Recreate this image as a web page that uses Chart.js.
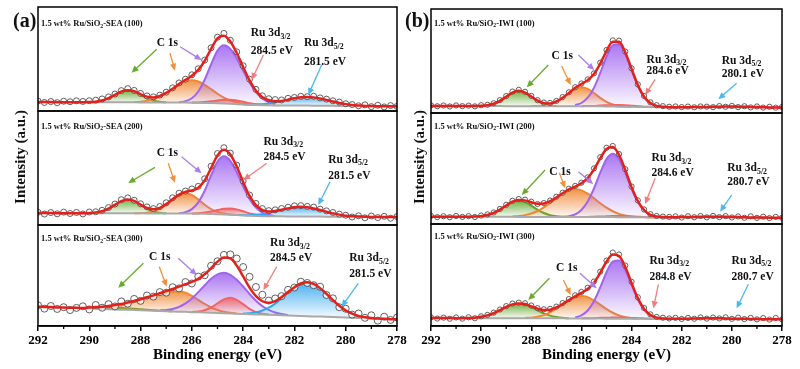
<!DOCTYPE html>
<html>
<head>
<meta charset="utf-8">
<script src="https://cdn.jsdelivr.net/npm/chart.js@4.4.1/dist/chart.umd.min.js"></script>
<style>
html,body{margin:0;padding:0;background:#ffffff;}
#fig{position:relative;width:800px;height:369px;overflow:hidden;background:#fff;font-family:"Liberation Serif","Times New Roman",serif;color:#111;}
#fig canvas{position:absolute;}
.t{position:absolute;white-space:nowrap;font-weight:bold;line-height:1;transform:translateY(-50%);}
.ann{font-size:11.5px;}
.st{font-size:8.5px;}
.pl{font-size:20px;}
.yt{position:absolute;white-space:nowrap;font-weight:bold;font-size:15px;line-height:1;transform:translate(-50%,-50%) rotate(-90deg);}
sub{font-size:0.68em;vertical-align:baseline;position:relative;top:0.3em;}
</style>
</head>
<body>
<div id="fig"></div>
<script>
// ---------- data (binding energy grid, eV) ----------
const ENERGY = [292,291.75,291.5,291.25,291,290.75,290.5,290.25,290,289.75,289.5,289.25,289,288.75,288.5,288.25,288,287.75,287.5,287.25,287,286.75,286.5,286.25,286,285.75,285.5,285.25,285,284.75,284.5,284.25,284,283.75,283.5,283.25,283,282.75,282.5,282.25,282,281.75,281.5,281.25,281,280.75,280.5,280.25,280,279.75,279.5,279.25,279,278.75,278.5,278.25,278];
const TICK_LABELS = [292,290,288,286,284,282,280,278];
const STEP = 0.25; // sampling step of the fitted component arrays
// component order in every *_FROM list: green, orange, purple, red, blue (start energy of each array)

// ---- (a) SEA (100) ----
const BASE_A1 = [8.6,8.6,8.6,8.5,8.5,8.5,8.5,8.5,8.4,8.4,8.4,8.4,8.3,8.3,8.3,8.3,8.2,8.2,8.2,8.2,8.1,8.1,8.1,8.1,8.0,7.9,7.8,7.7,7.5,7.2,6.9,6.5,6.2,5.9,5.7,5.6,5.5,5.4,5.4,5.3,5.3,5.2,5.2,5.1,5.1,5.0,5.0,4.9,4.9,4.8,4.8,4.7,4.7,4.6,4.6,4.5,4.5];
const RAW_A1 = [9.5,8.2,9.1,8.0,9.4,8.9,9.8,9.2,9.9,10.4,11.6,13.5,16.3,19.6,21.5,19.8,16.9,14.5,13.6,15.3,18.1,22.3,27.0,30.6,34.8,40.6,48.9,60.8,71.0,74.6,68.0,56.9,43.5,30.6,20.8,14.6,11.8,11.0,10.6,12.2,13.0,14.1,13.8,14.2,12.6,11.4,9.8,8.6,7.0,6.2,5.0,5.9,4.2,5.5,3.9,5.2,4.4];
const A1_FROM = [290,288.25,286.5,286,284];
const A1_GREEN = [0.2,0.6,1.7,4.0,7.2,10.4,11.7,10.4,7.2,4.0,1.7,0.6,0.2];
const A1_ORANGE = [0.3,0.7,1.6,3.1,5.6,9.1,13.3,17.4,20.4,21.5,20.4,17.4,13.3,9.1,5.6,3.1,1.6,0.7,0.3];
const A1_PURPLE = [0.4,1.4,4.3,10.9,22.2,37.1,50.5,56,52.8,44.1,32.6,21.4,12.5,6.4,3.0,1.2];
const A1_RED = [0.1,0.3,0.8,1.6,2.7,3.6,4.0,3.6,2.7,1.6,0.8,0.3,0.1];
const A1_BLUE = [0.1,0.2,0.5,1.0,1.7,2.8,4.2,5.6,7.0,8.0,8.3,8.0,7.0,5.6,4.2,2.8,1.7,1.0,0.5,0.2,0.1];

// ---- (a) SEA (200) ----
const BASE_A2 = [10.5,10.5,10.5,10.4,10.4,10.4,10.4,10.3,10.3,10.3,10.3,10.3,10.2,10.2,10.2,10.2,10.2,10.1,10.1,10.1,10.1,10.1,10.0,10.0,10.0,9.9,9.8,9.7,9.5,9.3,9.0,8.7,8.4,8.1,7.9,7.7,7.6,7.6,7.6,7.5,7.5,7.5,7.4,7.4,7.4,7.3,7.3,7.3,7.2,7.2,7.2,7.1,7.1,7.1,7.0,7.0,7.0];
const RAW_A2 = [11.2,9.6,10.9,9.8,11.3,10.1,11.0,9.7,11.4,11.6,12.9,15.3,18.4,22.2,23.8,21.7,18.6,15.9,14.4,16.2,19.5,23.9,27.9,29.8,31.6,33.9,40.5,51.6,62.7,67.8,63.1,52.5,38.6,26.3,18.9,14.4,12.6,13.3,14.5,15.6,16.8,17.0,16.3,15.7,13.9,12.4,11.0,9.5,8.6,7.0,8.1,6.3,7.9,6.5,7.6,5.9,7.4];
const A2_FROM = [290,288.25,286.5,286,284.25];
const A2_GREEN = [0.2,0.6,1.8,4.1,7.5,10.8,12.2,10.8,7.5,4.1,1.8,0.6,0.2];
const A2_ORANGE = [0.1,0.2,0.7,2.0,4.3,8.0,12.5,16.3,17.8,16.3,12.5,8.0,4.3,2.0,0.7,0.2,0.1];
const A2_PURPLE = [0.4,1.3,3.9,9.9,20.2,33.8,46.0,51,47.2,37.5,25.5,14.8,7.4,3.2,1.2,0.4];
const A2_RED = [0.1,0.4,1.1,2.1,3.6,5.0,5.5,5.0,3.6,2.1,1.1,0.4,0.1];
const A2_BLUE = [0.1,0.3,0.5,1.0,1.8,2.9,4.3,5.8,7.1,8.1,8.5,8.1,7.1,5.8,4.3,2.9,1.8,1.0,0.5,0.3,0.1];

// ---- (a) SEA (300) ----
const BASE_A3 = [19.1,18.9,18.7,18.4,18.2,18.0,17.8,17.5,17.3,17.1,16.9,16.6,16.4,16.2,16.0,15.8,15.5,15.3,15.1,14.9,14.6,14.4,14.2,14.0,13.7,13.5,13.3,13.1,12.9,12.6,12.4,12.2,12.0,11.7,11.5,11.3,11.1,10.8,10.6,10.4,10.2,10.0,9.7,9.5,9.3,9.1,8.8,8.6,8.4,8.2,7.9,7.7,7.5,7.3,7.1,6.8,6.6];
const RAW_A3 = [20.5,17.2,19.8,16.9,18.6,15.8,17.9,19.5,16.4,20.8,18.1,21.6,19.4,24.3,22.1,26.8,24.9,30.2,29.1,33.6,33.0,38.4,37.2,43.5,42.1,48.9,50.2,59.6,64.1,70.4,70.9,66.8,58.4,48.7,38.6,30.9,25.2,27.3,29.6,35.8,38.1,43.9,42.6,40.4,38.9,30.7,27.4,18.6,17.1,11.3,12.4,8.1,10.6,5.3,9.2,6.0,8.4];
const A3_FROM = [290.75,290,287.25,286,284];
const A3_GREEN = [0.1,0.2,0.3,0.5,0.8,1.0,1.3,1.4,1.5,1.4,1.3,1.0,0.8,0.5,0.3,0.2,0.1];
const A3_ORANGE = [0.5,0.8,1.2,1.9,2.9,4.2,5.8,7.8,10.0,12.4,14.7,16.8,18.5,19.6,20.0,19.0,16.1,12.4,8.5,5.2,2.9,1.5,0.7,0.3];
const A3_PURPLE = [0.5,1.2,2.5,4.8,8.4,13.6,20,27.1,33.6,38.3,40,38.3,33.6,27.1,20,13.6,8.4,4.8,2.5,1.2,0.5];
const A3_RED = [0.2,0.8,2.3,5.3,9.6,13.7,15.5,13.7,9.6,5.3,2.3,0.8,0.2];
const A3_BLUE = [0.4,1.0,2.1,4.0,7.0,11.4,16.8,22.7,28.2,32.1,33.5,32.1,28.2,22.7,16.8,11.4,7.0,4.0,2.1,1.0,0.4];

// ---- (b) IWI (100) ----
const BASE_B1 = [6.8,6.8,6.8,6.8,6.8,6.7,6.7,6.7,6.7,6.7,6.7,6.7,6.6,6.6,6.6,6.6,6.6,6.6,6.6,6.5,6.5,6.5,6.5,6.5,6.5,6.5,6.4,6.4,6.3,6.2,6.1,6.0,5.9,5.8,5.7,5.7,5.6,5.6,5.6,5.6,5.5,5.5,5.5,5.5,5.4,5.4,5.4,5.4,5.4,5.3,5.3,5.3,5.3,5.3,5.2,5.2,5.2];
const RAW_B1 = [7.4,6.5,7.2,6.3,7.3,6.6,7.1,6.4,7.5,7.9,9.4,12.4,16.3,20.6,22.3,20.4,16.5,12.3,10.1,9.7,11.6,15.3,19.9,24.8,28.4,32.3,38.1,48.4,60.6,69.8,69.5,59.1,43.0,27.5,16.4,10.3,7.5,6.6,6.0,6.3,5.7,6.2,5.5,6.3,6.1,5.6,6.7,6.0,6.8,5.7,6.5,5.4,6.3,5.2,6.0,5.1,5.8];
const B1_FROM = [290,288,286.25,286,282];
const B1_GREEN = [0.2,0.7,2.2,5.0,9.1,13.1,14.8,13.1,9.1,5.0,2.2,0.7,0.2];
const B1_ORANGE = [0.1,0.2,0.7,2.0,4.4,8.2,12.8,16.7,18.2,16.7,12.8,8.2,4.4,2.0,0.7,0.2,0.1];
const B1_PURPLE = [1.0,3.1,8.2,17.8,32.1,47.8,58.9,60.1,50.6,35.3,20.3,9.6,3.8,1.2,0.3];
const B1_RED = [0.1,0.2,0.4,0.8,1.1,1.4,1.5,1.4,1.1,0.8,0.4,0.2,0.1];
const B1_BLUE = [0.1,0.1,0.2,0.3,0.4,0.5,0.7,0.8,0.8,0.8,0.7,0.5,0.4,0.3,0.2,0.1,0.1];

// ---- (b) IWI (200) ----
const BASE_B2 = [6.6,6.6,6.6,6.6,6.6,6.6,6.5,6.5,6.5,6.5,6.5,6.5,6.5,6.5,6.4,6.4,6.4,6.4,6.4,6.4,6.4,6.3,6.3,6.3,6.3,6.3,6.3,6.2,6.2,6.2,6.1,6.1,6.0,6.0,6.0,5.9,5.9,5.9,5.9,5.9,5.9,5.9,5.8,5.8,5.8,5.8,5.8,5.8,5.8,5.8,5.7,5.7,5.7,5.7,5.7,5.7,5.7];
const RAW_B2 = [7.3,6.2,7.0,6.1,7.2,6.4,7.1,6.3,7.6,8.7,10.4,13.6,17.3,20.9,22.5,21.9,20.1,18.0,18.9,21.1,24.6,28.2,31.8,34.3,37.2,42.0,50.1,60.2,68.7,70.3,63.0,49.4,33.8,21.3,13.1,8.9,7.2,6.7,6.4,6.9,5.8,7.0,6.1,7.2,6.0,7.3,6.2,7.1,5.9,6.8,5.6,6.9,5.5,6.6,5.3,6.4,5.6];
const B2_FROM = [290.5,288.75,286.75,286,282.75];
const B2_GREEN = [0.1,0.2,0.6,1.6,3.5,6.5,10.2,13.3,14.5,13.3,10.2,6.5,3.5,1.6,0.6,0.2,0.1];
const B2_ORANGE = [0.3,0.8,1.6,3.0,5.3,8.5,12.5,16.9,21.0,24.0,25,24.0,21.0,16.9,12.5,8.5,5.3,3.0,1.6,0.8,0.3];
const B2_PURPLE = [0.2,0.7,2.3,6.3,13.9,25.7,40.0,52.2,57,52.2,40.0,25.7,13.9,6.3,2.3,0.7,0.2];
const B2_RED = [0.1,0.1,0.3,0.5,0.7,0.9,1.0,0.9,0.7,0.5,0.3,0.1,0.1];
const B2_BLUE = [0.1,0.1,0.2,0.3,0.4,0.5,0.7,0.8,0.8,0.8,0.7,0.5,0.4,0.3,0.2,0.1,0.1];

// ---- (b) IWI (300) ----
const BASE_B3 = [7.8,7.8,7.8,7.8,7.7,7.7,7.7,7.7,7.7,7.7,7.6,7.6,7.6,7.6,7.6,7.6,7.5,7.5,7.5,7.5,7.5,7.5,7.4,7.4,7.4,7.4,7.3,7.3,7.2,7.2,7.1,7.1,7.0,7.0,7.0,6.9,6.9,6.9,6.9,6.9,6.9,6.8,6.8,6.8,6.8,6.8,6.8,6.7,6.7,6.7,6.7,6.7,6.7,6.6,6.6,6.6,6.6];
const RAW_B3 = [8.5,7.3,8.2,7.1,8.4,7.2,8.6,7.6,9.5,10.9,13.1,16.2,19.5,22.0,22.9,22.3,20.1,17.5,16.4,16.8,19.0,22.5,26.4,30.1,33.4,37.5,43.6,53.2,64.1,72.0,70.1,59.3,43.4,28.2,17.6,11.4,8.9,8.1,7.4,8.0,6.9,7.9,7.1,8.4,7.2,8.3,7.4,8.5,7.0,8.2,6.8,7.9,6.5,7.8,6.3,7.9,6.5];
const B3_FROM = [290.5,288.25,286.25,286,282.75];
const B3_GREEN = [0.2,0.5,1.3,2.7,4.9,7.9,11.1,13.6,14.5,13.6,11.1,7.9,4.9,2.7,1.3,0.5,0.2];
const B3_ORANGE = [0.3,0.7,1.6,3.2,5.8,9.4,13.6,17.8,20.9,22,20.9,17.8,13.6,9.4,5.8,3.2,1.6,0.7,0.3];
const B3_PURPLE = [0.9,3.0,7.8,16.9,30.5,45.5,56.0,57.1,48.1,33.5,19.3,9.2,3.6,1.2,0.3];
const B3_RED = [0.1,0.2,0.4,0.7,0.9,1.1,1.2,1.1,0.9,0.7,0.4,0.2,0.1];
const B3_BLUE = [0.1,0.1,0.2,0.3,0.4,0.5,0.7,0.8,0.8,0.8,0.7,0.5,0.4,0.3,0.2,0.1,0.1];

// ---- annotations (energy, intensity) ----
const TEXT_A1 = [['C 1s',287.37,65.1],['Ru 3d<sub>3/2</sub>',283.70,74.7],['284.5 eV',283.70,58.0],['Ru 3d<sub>5/2</sub>',281.63,65.1],['281.5 eV',281.63,47.4]];
const ARROW_A1 = [[287.37,59.3,288.35,36.8],[286.85,55.5,286.66,38.8],[286.46,61.8,285.62,49.0],[283.21,53.8,283.67,29.8],[280.94,44.2,281.46,15.4]];
const TEXT_A2 = [['C 1s',287.37,62.9],['Ru 3d<sub>3/2</sub>',283.21,73.1],['284.5 eV',283.21,59.9],['Ru 3d<sub>5/2</sub>',280.68,57.0],['281.5 eV',280.68,43.2]];
const ARROW_A2 = [[287.44,50.6,288.48,36.8],[286.92,54.1,286.66,37.1],[286.40,59.9,285.62,45.4],[283.08,54.1,283.99,39.5],[280.61,38.0,281.07,17.5]];
const TEXT_A3 = [['C 1s',287.67,68.6],['Ru 3d<sub>3/2</sub>',282.95,81.9],['284.5 eV',282.95,67.0],['Ru 3d<sub>5/2</sub>',279.86,67.0],['281.5 eV',279.86,51.2]];
const ARROW_A3 = [[287.89,62.1,288.87,37.9],[287.27,58.7,286.98,38.9],[286.53,67.0,285.81,50.5],[282.69,58.7,283.21,35.6],[279.51,42.3,280.16,19.1]];
const TEXT_B1 = [['C 1s',287.19,54.8],['Ru 3d<sub>3/2</sub>',283.40,51.0],['284.6 eV',283.40,40.7],['Ru 3d<sub>5/2</sub>',280.40,50.3],['280.1 eV',280.40,37.5]];
const ARROW_B1 = [[287.32,46.2,288.18,24.7],[286.79,45.2,286.43,26.9],[286.12,55.8,285.49,41.3],[283.06,32.4,283.46,17.3],[279.81,28.6,280.54,13.2]];
const TEXT_B2 = [['C 1s',287.28,47.1],['Ru 3d<sub>3/2</sub>',283.20,59.2],['284.6 eV',283.20,46.2],['Ru 3d<sub>5/2</sub>',280.18,50.2],['280.7 eV',280.18,38.1]];
const ARROW_B2 = [[287.45,48.6,288.38,26.1],[286.88,46.2,286.65,32.2],[286.12,47.1,285.53,36.0],[283.06,41.2,283.46,18.0],[280.01,26.1,280.47,11.1]];
const TEXT_B3 = [['C 1s',287.01,56.5],['Ru 3d<sub>3/2</sub>',283.29,63.7],['284.8 eV',283.29,48.4],['Ru 3d<sub>5/2</sub>',280.01,63.7],['280.7 eV',280.01,48.4]];
const ARROW_B3 = [[287.28,46.8,288.12,25.5],[286.72,45.1,286.43,30.4],[286.06,51.7,285.39,37.0],[282.93,40.9,283.13,17.4],[279.34,40.9,279.81,17.4]];

// ---------- styling / layout ----------
const FONT = '"Liberation Serif","Times New Roman",serif';
const ORDER_KEYS = ['green','orange','purple','red','blue'];
const RGB = {green:'95,165,40', orange:'240,135,50', purple:'160,100,240', red:'240,100,100', blue:'50,165,240'};
const ARROW_RGB = {green:'105,170,45', orange:'240,145,55', purple:'170,125,240', red:'240,125,125', blue:'75,185,240'};

const SUBPLOTS = [
  {L:38,R:397,T:7,B:111,titleY:23.3,title:'1.5 wt% Ru/SiO<sub>2</sub>-SEA (100)',base:BASE_A1,raw:RAW_A1,from:A1_FROM,comps:[A1_GREEN,A1_ORANGE,A1_PURPLE,A1_RED,A1_BLUE],texts:TEXT_A1,arrows:ARROW_A1,r:3,bottom:false},
  {L:38,R:397,T:111,B:225,titleY:125.7,title:'1.5 wt% Ru/SiO<sub>2</sub>-SEA (200)',base:BASE_A2,raw:RAW_A2,from:A2_FROM,comps:[A2_GREEN,A2_ORANGE,A2_PURPLE,A2_RED,A2_BLUE],texts:TEXT_A2,arrows:ARROW_A2,r:3,bottom:false},
  {L:38,R:397,T:225,B:326,titleY:238.3,title:'1.5 wt% Ru/SiO<sub>2</sub>-SEA (300)',base:BASE_A3,raw:RAW_A3,from:A3_FROM,comps:[A3_GREEN,A3_ORANGE,A3_PURPLE,A3_RED,A3_BLUE],texts:TEXT_A3,arrows:ARROW_A3,r:3.5,bottom:true},
  {L:431,R:782,T:9,B:113,titleY:22.7,title:'1.5 wt% Ru/SiO<sub>2</sub>-IWI (100)',base:BASE_B1,raw:RAW_B1,from:B1_FROM,comps:[B1_GREEN,B1_ORANGE,B1_PURPLE,B1_RED,B1_BLUE],texts:TEXT_B1,arrows:ARROW_B1,r:2.6,bottom:false},
  {L:431,R:782,T:113,B:224,titleY:125.7,title:'1.5 wt% Ru/SiO<sub>2</sub>-IWI (200)',base:BASE_B2,raw:RAW_B2,from:B2_FROM,comps:[B2_GREEN,B2_ORANGE,B2_PURPLE,B2_RED,B2_BLUE],texts:TEXT_B2,arrows:ARROW_B2,r:2.6,bottom:false},
  {L:431,R:782,T:224,B:326,titleY:235.7,title:'1.5 wt% Ru/SiO<sub>2</sub>-IWI (300)',base:BASE_B3,raw:RAW_B3,from:B3_FROM,comps:[B3_GREEN,B3_ORANGE,B3_PURPLE,B3_RED,B3_BLUE],texts:TEXT_B3,arrows:ARROW_B3,r:2.6,bottom:true}
];

const fig = document.getElementById('fig');

function addDiv(cls, html, left, top) {
  const d = document.createElement('div');
  d.className = cls; d.innerHTML = html;
  d.style.left = left + 'px'; d.style.top = top + 'px';
  fig.appendChild(d);
  return d;
}

function compPoints(base, from, h) {
  return h.map((v, j) => {
    const e = from - j * STEP;
    const i = ENERGY.indexOf(e);
    return {x: e, y: base[i] + v};
  });
}

function fitPoints(base, froms, comps) {
  return ENERGY.map((e, i) => {
    let s = base[i];
    comps.forEach((h, n) => {
      const j = Math.round((froms[n] - e) / STEP);
      if (j >= 0 && j < h.length) s += h[j];
    });
    return {x: e, y: s};
  });
}

function gradientFill(rgb, topVal, botVal) {
  return function(ctx) {
    const chart = ctx.chart;
    if (!chart.chartArea) return 'rgba(' + rgb + ',0.35)';
    const ys = chart.scales.y;
    const y0 = ys.getPixelForValue(topVal);
    let y1 = ys.getPixelForValue(botVal);
    if (y1 - y0 < 3) y1 = y0 + 3;
    const g = chart.ctx.createLinearGradient(0, y0, 0, y1);
    g.addColorStop(0, 'rgba(' + rgb + ',0.88)');
    g.addColorStop(1, 'rgba(' + rgb + ',0.04)');
    return g;
  };
}

function drawArrow(ctx, x0, y0, x1, y1, color) {
  const ang = Math.atan2(y1 - y0, x1 - x0);
  const L = 7, W = 3.2;
  ctx.strokeStyle = color; ctx.fillStyle = color; ctx.lineWidth = 1.3;
  ctx.beginPath();
  ctx.moveTo(x0, y0);
  ctx.lineTo(x1 - Math.cos(ang) * L * 0.8, y1 - Math.sin(ang) * L * 0.8);
  ctx.stroke();
  ctx.beginPath();
  ctx.moveTo(x1, y1);
  ctx.lineTo(x1 - L * Math.cos(ang) + W * Math.sin(ang), y1 - L * Math.sin(ang) - W * Math.cos(ang));
  ctx.lineTo(x1 - L * Math.cos(ang) - W * Math.sin(ang), y1 - L * Math.sin(ang) + W * Math.cos(ang));
  ctx.closePath();
  ctx.fill();
}

function makePlugin(sp) {
  return {
    id: 'deco',
    afterDatasetsDraw(chart) {
      const ctx = chart.ctx, a = chart.chartArea, xs = chart.scales.x, ys = chart.scales.y;
      ctx.save();
      sp.arrows.forEach((ar, n) => {
        drawArrow(ctx, xs.getPixelForValue(ar[0]), ys.getPixelForValue(ar[1]), xs.getPixelForValue(ar[2]), ys.getPixelForValue(ar[3]), 'rgb(' + ARROW_RGB[ORDER_KEYS[n]] + ')');
      });
      ctx.strokeStyle = '#000'; ctx.lineWidth = 1.5;
      ctx.strokeRect(a.left, a.top, a.right - a.left, a.bottom - a.top);
      if (sp.bottom) {
        ctx.beginPath();
        for (let k = 1; k < TICK_LABELS.length; k++) {
          const e = (TICK_LABELS[k - 1] + TICK_LABELS[k]) / 2;
          const x = xs.getPixelForValue(e);
          ctx.moveTo(x, a.bottom); ctx.lineTo(x, a.bottom + 3);
        }
        ctx.lineWidth = 1.3; ctx.stroke();
      }
      ctx.restore();
    }
  };
}

function build(sp) {
  const padL = sp.bottom ? 20 : 2, padR = sp.bottom ? 20 : 2, padT = 2, padB = sp.bottom ? 0 : 2;
  const cw = sp.R - sp.L + padL + padR;
  const ch = sp.bottom ? (369 - sp.T + padT) : (sp.B - sp.T + padT + padB);
  const axisH = 369 - sp.B;
  const cl = sp.L - padL, ct = sp.T - padT;
  const canvas = document.createElement('canvas');
  canvas.width = cw; canvas.height = ch;
  canvas.style.left = cl + 'px'; canvas.style.top = ct + 'px';
  canvas.style.width = cw + 'px'; canvas.style.height = ch + 'px';
  fig.appendChild(canvas);

  const datasets = [];
  datasets.push({label: 'Background', data: ENERGY.map((e, i) => ({x: e, y: sp.base[i]})), borderColor: '#a9a9a9', borderWidth: 2, pointRadius: 0, fill: false, order: 3});
  sp.comps.forEach((h, n) => {
    const key = ORDER_KEYS[n];
    const pts = compPoints(sp.base, sp.from[n], h);
    const topVal = Math.max(...pts.map(p => p.y));
    const botVal = Math.min(...pts.map(p => sp.base[ENERGY.indexOf(p.x)]));
    datasets.push({label: key, data: pts, borderColor: 'rgb(' + RGB[key] + ')', borderWidth: 2, pointRadius: 0,
      fill: 0, backgroundColor: gradientFill(RGB[key], topVal, botVal), cubicInterpolationMode: 'monotone', order: 10 - n});
  });
  datasets.push({label: 'Raw', data: ENERGY.map((e, i) => ({x: e, y: sp.raw[i]})), showLine: false, pointRadius: sp.r,
    pointBorderWidth: 0.8, pointBorderColor: '#3a3a3a', pointBackgroundColor: 'rgba(255,255,255,0.7)', order: 2});
  datasets.push({label: 'Fit', data: fitPoints(sp.base, sp.from, sp.comps), borderColor: '#e3201b', borderWidth: 2.5, pointRadius: 0,
    fill: false, cubicInterpolationMode: 'monotone', order: 1});

  const xOpts = sp.bottom ? {
    type: 'linear', min: 278, max: 292, reverse: true, display: true,
    afterBuildTicks: (s) => { s.ticks = TICK_LABELS.map(v => ({value: v})); },
    afterFit: (s) => { s.height = axisH; },
    ticks: {autoSkip: false, maxRotation: 0, color: '#000', padding: 2, font: {family: FONT, size: 13, weight: 'bold'}},
    grid: {display: true, drawOnChartArea: false, drawTicks: true, tickLength: 5, color: '#000', lineWidth: 1.5},
    border: {display: true, color: '#000', width: 1.5},
    title: {display: true, text: 'Binding energy (eV)', color: '#000', font: {family: FONT, size: 15, weight: 'bold'}, padding: {top: 0, bottom: 5}}
  } : {type: 'linear', min: 278, max: 292, reverse: true, display: false};

  const chart = new Chart(canvas, {
    type: 'line',
    data: {datasets: datasets},
    options: {
      responsive: false, animation: false, devicePixelRatio: 1, events: [],
      layout: {autoPadding: false, padding: {left: padL, right: padR, top: padT, bottom: padB}},
      plugins: {legend: {display: false}, tooltip: {enabled: false}},
      scales: {x: xOpts, y: {type: 'linear', min: 0, max: 100, display: false}}
    },
    plugins: [makePlugin(sp)]
  });

  const xs = chart.scales.x, ys = chart.scales.y;
  sp.texts.forEach(t => {
    addDiv('t ann', t[0], (cl + xs.getPixelForValue(t[1])).toFixed(1), (ct + ys.getPixelForValue(t[2])).toFixed(1));
  });
  addDiv('t st', sp.title, sp.L + 3, sp.titleY);
}

SUBPLOTS.forEach(build);

addDiv('t pl', '(a)', 13, 19.5);
addDiv('t pl', '(b)', 405, 19.5);
addDiv('yt', 'Intensity (a.u.)', 19.5, 157);
addDiv('yt', 'Intensity (a.u.)', 418.5, 157);
</script>
</body>
</html>
